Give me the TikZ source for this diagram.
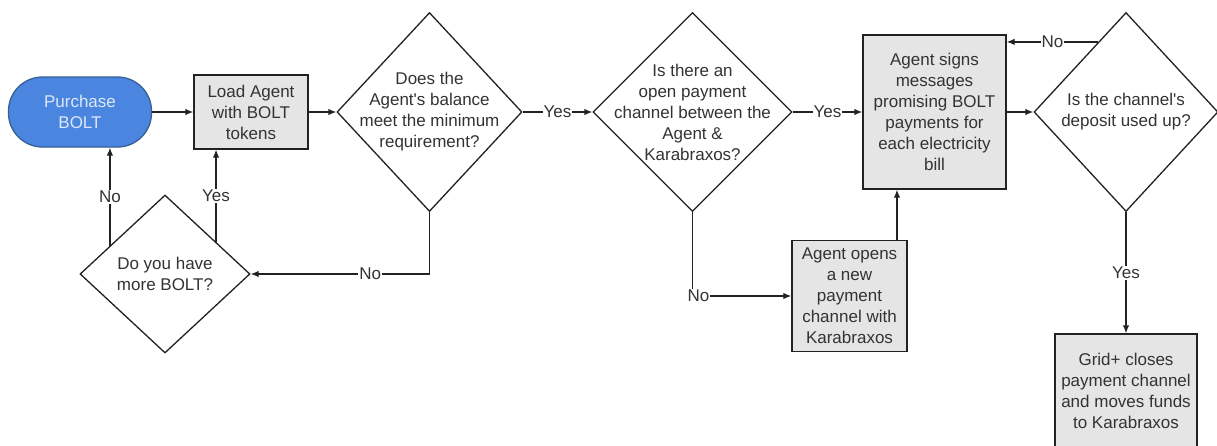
\documentclass[tikz,border=0pt]{standalone}
\usepackage{fontspec}
\setmainfont{Liberation Sans}
\usetikzlibrary{shapes.geometric,arrows.meta,calc}
\definecolor{linec}{HTML}{222222}
\definecolor{txtc}{HTML}{333333}
\definecolor{boxfill}{HTML}{E5E5E5}
\definecolor{bluefill}{HTML}{4A86E0}
\definecolor{blueline}{HTML}{3A5F96}
\definecolor{bluetext}{HTML}{DCE8F8}
\begin{document}
\begin{tikzpicture}[x=1pt,y=-1pt,
  every node/.style={font=\fontsize{17}{21}\selectfont, text=txtc},
  box/.style={draw=linec, line width=1.3pt, fill=boxfill, inner sep=0pt, align=center},
  startbox/.style={draw=blueline, line width=1.3pt, fill=bluefill, text=bluetext, rounded corners=34pt, inner sep=0pt, align=center},
  dia/.style={draw=linec, line width=1.3pt, fill=white, shape=diamond, inner sep=0pt},
  dtext/.style={align=center, inner sep=0pt},
  arr/.style={draw=linec, line width=1.3pt, -{Latex[length=8pt,width=6.5pt]}},
  lbl/.style={fill=white, inner sep=1pt}]
\useasboundingbox (0,0) rectangle (1217,445);
\fill[white] (0,0) rectangle (1217,445);
% nodes
\node[startbox, minimum width=143pt, minimum height=70pt] (pb) at (80,112) {Purchase\\BOLT};
\node[box, minimum width=114pt, minimum height=74pt] (la) at (251,112) {Load Agent\\with BOLT\\tokens};
\node[dia, minimum width=185pt, minimum height=199pt] (d1) at (429.5,112) {};
\node[dtext] (d1t) at (d1) {Does the\\Agent\textquotesingle s balance\\meet the minimum\\requirement?};
\node[dia, minimum width=170pt, minimum height=158pt] (d2) at (165,274) {};
\node[dtext] (d2t) at (d2) {Do you have\\more BOLT?};
\node[dia, minimum width=199pt, minimum height=199pt] (d3) at (692.5,112) {};
\node[dtext] (d3t) at (d3) {Is there an\\open payment\\channel between the\\Agent \&\\Karabraxos?};
\node[box, minimum width=143pt, minimum height=154pt] (as) at (934.5,112) {Agent signs\\messages\\promising BOLT\\payments for\\each electricity\\bill};
\node[dia, minimum width=184pt, minimum height=199pt] (d4) at (1126,112) {};
\node[dtext] (d4t) at (d4) {Is the channel\textquotesingle s\\deposit used up?};
\node[box, minimum width=115pt, minimum height=111pt] (ao) at (849.5,296) {Agent opens\\a new\\payment\\channel with\\Karabraxos};
\node[box, minimum width=142pt, minimum height=114pt] (gc) at (1126,391) {Grid+ closes\\payment channel\\and moves funds\\to Karabraxos};
% connectors
\draw[arr] (pb.east) -- (la.west);
\draw[arr] (la.east) -- (d1.west);
\draw[arr] (d1.east) -- node[lbl]{Yes} (d3.west);
\draw[arr] (d3.east) -- node[lbl]{Yes} (as.west);
\draw[arr] (as.east) -- (d4.west);
\draw[arr] (d4.south) -- node[lbl]{Yes} (gc.north);
\coordinate (d4n) at ($(d4.west)!0.7!(d4.north)$);
\draw[arr] (d4n) -- node[lbl]{No} (d4n -| as.east);
\draw[arr] (d1.south) |- node[lbl,pos=0.666]{No} (d2.east);
\draw[arr] (d3.south) |- node[lbl,pos=0.5,xshift=6pt]{No} (ao.west);
\coordinate (aox) at (897,296);
\draw[arr] (ao.north -| aox) -- (as.south -| aox);
\coordinate (d2a) at ($(d2.west)!0.357!(d2.north)$);
\draw[arr] (d2a) -- node[lbl]{No} (d2a |- pb.south);
\coordinate (d2b) at ($(d2.north)!0.596!(d2.east)$);
\draw[arr] (d2b) -- node[lbl]{Yes} (d2b |- la.south);
\end{tikzpicture}
\end{document}
